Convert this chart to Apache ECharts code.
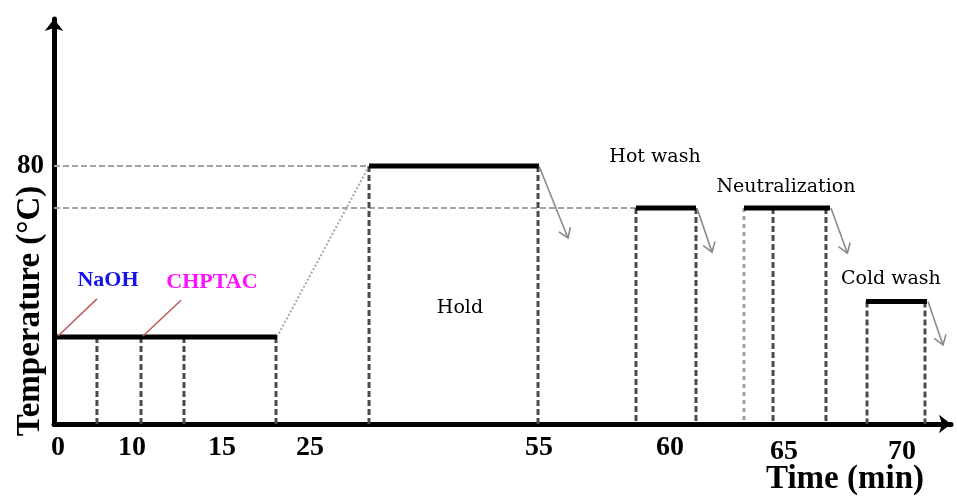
<!DOCTYPE html>
<html><head><meta charset="utf-8">
<script src="https://cdn.jsdelivr.net/npm/echarts@6/dist/echarts.min.js"></script>
<style>html,body{margin:0;padding:0;background:#fff}#c{width:957px;height:496px}</style>
</head><body><div id="c"></div>
<script>
// Schematic time position (0-100) and temperature (°C-like) units
const xTickPos = [0.45, 8.7, 18.73, 28.54, 54.07, 68.67, 81.38, 94.54];
const xTickLabels = ['0', '10', '15', '25', '55', '60', '65', '70'];
const yTickPos = [80];
const yTickLabels = ['80'];

// process steps: [xStart, xEnd, temperature]
const stepSegments = [[0, 24.86, 27], [35.12, 54.07, 80], [64.88, 71.57, 67], [76.92, 86.51, 67], [90.52, 97.32, 38]];
// dashed verticals: [x, temperature]
const stepVerticals = [[4.79, 27], [9.70, 27], [14.49, 27], [24.75, 27], [35.12, 80], [53.96, 80], [64.88, 67], [71.57, 67], [80.16, 67], [86.06, 67], [90.64, 38], [97.10, 38]];
const lightVerticals = [[76.92, 67]];
// reference levels: [xStart, xEnd, temperature]
const guideLevels = [[0, 35.12, 80], [0, 64.88, 67]];
// heating ramp: [x1, t1, x2, t2]
const rampSegments = [[24.86, 27, 35.12, 80]];
// cooling arrows: [x1, t1, x2, t2]
const coolArrows = [[54.07, 80, 57.30, 57.7], [71.68, 67, 73.36, 53.3], [86.62, 67, 88.45, 53.0], [97.44, 38, 99.11, 24.5]];
// dosing pointers: [x1, t1, x2, t2]
const dosePointers = [[0.45, 27.3, 4.79, 38.8], [9.92, 27.3, 14.16, 38.4]];
// stage labels
const stageNames = ['Hold', 'Hot wash', 'Neutralization', 'Cold wash'];
const stageX = [45.26, 67.0, 81.6, 93.3];
const stageT = [36.0, 82.8, 73.5, 45.0];
// chemical labels
const chemNames = ['NaOH', 'CHPTAC'];
const chemX = [6.02, 17.61];
const chemT = [44.7, 44.0];
const chemColors = ['#1414e8', '#ff10ff'];

function segRenderer(style) {
  return function (params, api) {
    const a = api.coord([api.value(0), api.value(1)]);
    const b = api.coord([api.value(2), api.value(3)]);
    return { type: 'line', shape: { x1: a[0], y1: a[1], x2: b[0], y2: b[1] },
      style: Object.assign({ fill: null }, style) };
  };
}
function arrowRenderer(style) {
  return function (params, api) {
    const a = api.coord([api.value(0), api.value(1)]);
    const b = api.coord([api.value(2), api.value(3)]);
    const ang = Math.atan2(b[1] - a[1], b[0] - a[0]);
    const L = 11, s = 0.6;
    const h1 = [b[0] - L * Math.cos(ang - s), b[1] - L * Math.sin(ang - s)];
    const h2 = [b[0] - L * Math.cos(ang + s), b[1] - L * Math.sin(ang + s)];
    return { type: 'group', children: [
      { type: 'line', shape: { x1: a[0], y1: a[1], x2: b[0], y2: b[1] }, style: Object.assign({ fill: null }, style) },
      { type: 'polyline', shape: { points: [h1, b, h2] }, style: Object.assign({ fill: null }, style) }
    ] };
  };
}
function seg(data, style, z) {
  return { type: 'custom', renderItem: segRenderer(style), data: data, z: z,
    dimensions: ['x1', 'y1', 'x2', 'y2'], encode: { x: [0, 2], y: [1, 3] }, silent: true, clip: false };
}

const chart = echarts.init(document.getElementById('c'), null, { renderer: 'canvas' });
const serifBold = { fontFamily: 'Liberation Serif', fontWeight: 'bold', color: '#000' };

chart.setOption({
  backgroundColor: '#fff',
  animation: false,
  grid: { left: 54, right: 6, top: 19, bottom: 72 },
  xAxis: {
    type: 'value', min: 0, max: 100,
    splitLine: { show: false }, axisTick: { show: false },
    axisLine: { show: true, onZero: false, symbol: ['none', 'arrow'], symbolSize: [14, 12],
      lineStyle: { color: '#000', width: 5 } },
    axisLabel: {
      customValues: xTickPos, margin: 10,
      formatter: function (v) {
        const i = xTickPos.indexOf(v);
        if (i < 0) return '';
        return (i >= 6 ? '{lo|' : '{hi|') + xTickLabels[i] + '}';
      },
      rich: {
        hi: Object.assign({ fontSize: 28, lineHeight: 28 }, serifBold),
        lo: Object.assign({ fontSize: 28, lineHeight: 36 }, serifBold)
      }
    }
  },
  yAxis: {
    type: 'value', min: 0, max: 125.6,
    splitLine: { show: false }, axisTick: { show: false },
    axisLine: { show: true, onZero: false, symbol: ['none', 'arrow'], symbolSize: [14, 12],
      lineStyle: { color: '#000', width: 5 } },
    axisLabel: Object.assign({ customValues: yTickPos, margin: 10, fontSize: 27,
      formatter: function (v) { const i = yTickPos.indexOf(v); return i < 0 ? '' : yTickLabels[i]; } }, serifBold)
  },
  graphic: [
    { type: 'text', x: 30, y: 311, rotation: Math.PI / 2,
      style: { text: 'Temperature (°C)', fontFamily: 'Liberation Serif', fontWeight: 'bold', fontSize: 33,
        align: 'center', verticalAlign: 'middle', fill: '#000' } },
    { type: 'text', x: 845, y: 479,
      style: { text: 'Time (min)', fontFamily: 'Liberation Serif', fontWeight: 'bold', fontSize: 33,
        align: 'center', verticalAlign: 'middle', fill: '#000' } }
  ],
  series: [
    seg(guideLevels.map(d => [d[0], d[2], d[1], d[2]]), { stroke: '#a4a4a4', lineWidth: 2, lineDash: [6, 3] }, 1),
    seg(rampSegments, { stroke: '#a8a8a8', lineWidth: 2, lineDash: [2, 2] }, 1),
    seg(stepVerticals.map(d => [d[0], d[1], d[0], 0]), { stroke: '#4a4a4a', lineWidth: 3, lineDash: [6, 3] }, 2),
    seg(lightVerticals.map(d => [d[0], d[1], d[0], 0]), { stroke: '#a0a0a0', lineWidth: 3, lineDash: [4, 4] }, 2),
    seg(stepSegments.map(d => [d[0], d[2], d[1], d[2]]), { stroke: '#000', lineWidth: 5 }, 3),
    seg(dosePointers, { stroke: '#c05a5a', lineWidth: 1.5 }, 3),
    { type: 'custom', renderItem: arrowRenderer({ stroke: '#8a8a8a', lineWidth: 1.6 }), data: coolArrows, z: 3,
      dimensions: ['x1', 'y1', 'x2', 'y2'], encode: { x: [0, 2], y: [1, 3] }, silent: true, clip: false },
    { type: 'scatter', symbolSize: 0, z: 4, silent: true, itemStyle: { opacity: 1 },
      data: stageNames.map((n, i) => ({ name: n, value: [stageX[i], stageT[i]] })),
      label: { show: true, position: 'inside', formatter: '{b}', fontFamily: 'DejaVu Serif', fontSize: 19,
        color: '#000', opacity: 1, textBorderWidth: 0 } },
    { type: 'scatter', symbolSize: 0, z: 4, silent: true, itemStyle: { opacity: 1 },
      data: chemNames.map((n, i) => ({ name: n, value: [chemX[i], chemT[i]], label: { color: chemColors[i] } })),
      label: { show: true, position: 'inside', formatter: '{b}', fontFamily: 'Liberation Serif', fontWeight: 'bold',
        fontSize: 22, opacity: 1, textBorderWidth: 0 } }
  ]
});
</script>
</body></html>
